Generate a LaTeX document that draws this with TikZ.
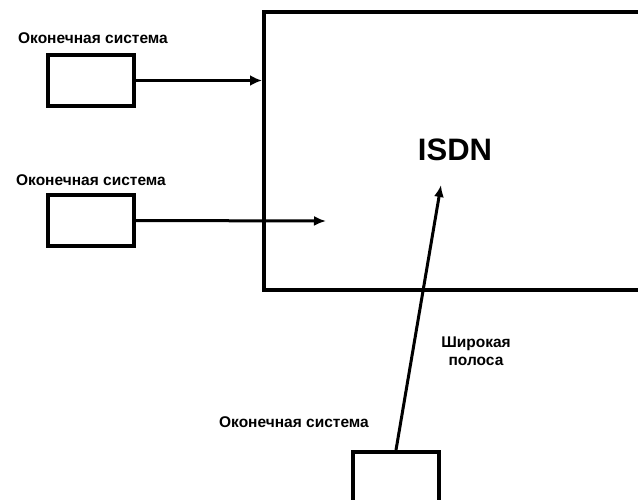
\documentclass[tikz,border=0pt]{standalone}
\usepackage{fontspec}
\setmainfont{Liberation Sans}
\usetikzlibrary{arrows.meta}
\begin{document}
\begin{tikzpicture}[x={(1pt,0)},y={(0,-1pt)},
  box/.style={draw,line width=4pt,minimum width=86pt,minimum height=51pt,inner sep=0pt},
  lbl/.style={font=\bfseries\fontsize{15.5}{16}\selectfont,inner sep=0pt},
  arr/.style={line width=3.5pt,-{Latex[length=12pt,width=11pt]}},
  arrt/.style={line width=3pt,-{Latex[length=12pt,width=10pt]}}]
\useasboundingbox (0,0) rectangle (638,499);
\clip (0,0) rectangle (638,499);
\node[draw,line width=4pt,minimum width=440pt,minimum height=278pt,anchor=north west,inner sep=0pt] (net) at (262,10) {};
\node[font=\bfseries\fontsize{31}{32}\selectfont,inner sep=0pt] (isdn) at (455,150) {ISDN};
\node[box] (b1) at (91,80.5) {};
\node[box] (b2) at (91,220.5) {};
\node[box] (b3) at (396,477.5) {};
\node[lbl] (l1) at (93,38) {Оконечная система};
\node[lbl] (l2) at (91,180) {Оконечная система};
\node[lbl] (l3) at (294,422) {Оконечная система};
\node[lbl,align=center] (l4) at (476,351) {Широкая\\[2pt]полоса};
\coordinate (t2) at (326,221);
\coordinate (t3) at (441,185);
\draw[arr] (b1.east) -- (b1.east -| net.west);
\draw[arrt] (b2.east) -- (t2);
\draw[arrt] (b3.north) -- (t3);
\end{tikzpicture}
\end{document}
